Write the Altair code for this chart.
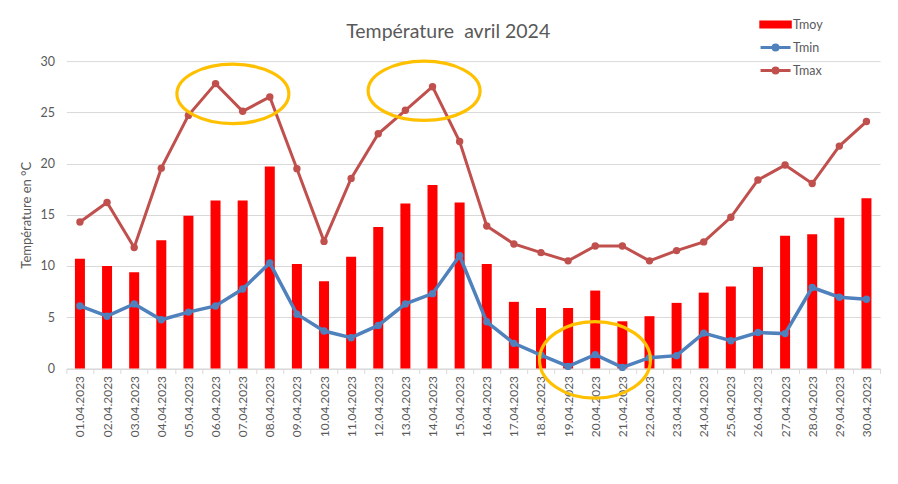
import altair as alt
import pandas as pd

# ---- data ----
dates = [f"{d:02d}.04.2023" for d in range(1, 31)]
tmoy = [10.7, 10.0, 9.4, 12.5, 14.9, 16.4, 16.4, 19.7, 10.2, 8.5,
        10.9, 13.8, 16.1, 17.9, 16.2, 10.2, 6.5, 5.9, 5.9, 7.6,
        4.6, 5.1, 6.4, 7.4, 8.0, 9.9, 12.95, 13.1, 14.7, 16.6]
tmin = [6.1, 5.1, 6.3, 4.75, 5.5, 6.1, 7.75, 10.3, 5.3, 3.65,
        3.0, 4.2, 6.3, 7.3, 11.0, 4.55, 2.45, 1.3, 0.2, 1.35,
        0.1, 1.05, 1.25, 3.45, 2.7, 3.5, 3.4, 7.9, 6.95, 6.75]
tmax = [14.3, 16.2, 11.8, 19.55, 24.7, 27.8, 25.1, 26.5, 19.5, 12.4,
        18.55, 22.9, 25.2, 27.5, 22.15, 13.9, 12.15, 11.3, 10.5, 11.95,
        11.95, 10.5, 11.5, 12.35, 14.75, 18.4, 19.85, 18.05, 21.7, 24.1]

series_names = ["Tmoy", "Tmin", "Tmax"]
series_colors = ["#FF0000", "#4F81BD", "#C0504D"]

# highlight ellipses (centre: day index, temperature)
ell_day = [6.64, 13.69, 19.99]
ell_temp = [26.8, 27.1, 0.83]
ell_kind = ["flat", "flat", "round"]

title_text = "Température\u00a0\u00a0avril 2024"
y_title = "Température en °C"

FONT = "Lato"
GRAY = "#595959"
GRID = "#D9D9D9"

df = pd.DataFrame({"date": dates, "Tmoy": tmoy, "Tmin": tmin, "Tmax": tmax})
ell = pd.DataFrame({"day": ell_day, "temp": ell_temp, "kind": ell_kind})
leg = pd.DataFrame({"series": series_names})

W, H = 814, 307.5

xenc = alt.X("date:O", sort=None, title=None,
             scale=alt.Scale(paddingInner=0, paddingOuter=0),
             axis=alt.Axis(labelAngle=-90, labelFontSize=12, labelColor=GRAY, labelFont=FONT,
                           tickBand="extent", tickSize=5, tickColor=GRID, domainColor=GRID,
                           labelPadding=2, grid=False))
yscale = alt.Scale(domain=[0, 30], nice=False)
yaxis = alt.Axis(values=[0, 5, 10, 15, 20, 25, 30], labelFontSize=12.5, labelColor=GRAY,
                 labelFont=FONT, domain=False, ticks=False, tickSize=0, labelPadding=12,
                 gridColor=GRID, title=y_title, titleFont=FONT, titleFontSize=13,
                 titleColor=GRAY, titleFontWeight="normal", titlePadding=6)

base = alt.Chart(df)
bars = base.mark_bar(color="#FF0000", width=10).encode(
    x=xenc, y=alt.Y("Tmoy:Q", scale=yscale, axis=yaxis))
lmin = base.mark_line(color="#4F81BD", strokeWidth=3.5).encode(x=xenc, y=alt.Y("Tmin:Q", scale=yscale))
pmin = base.mark_circle(color="#4F81BD", size=55, opacity=1).encode(x=xenc, y=alt.Y("Tmin:Q", scale=yscale))
lmax = base.mark_line(color="#C0504D", strokeWidth=3).encode(x=xenc, y=alt.Y("Tmax:Q", scale=yscale))
pmax = base.mark_circle(color="#C0504D", size=55, opacity=1).encode(x=xenc, y=alt.Y("Tmax:Q", scale=yscale))

rect_path = "M -2.95 -0.5 H 2.95 V 0.5 H -2.95 Z"
line_path = "M -3.0 0 H 3.0 M -0.5 0 A 0.5 0.5 0 1 0 0.5 0 A 0.5 0.5 0 1 0 -0.5 0 Z"
leg_legend = alt.Legend(title=None, orient="none", legendX=703, legendY=-43,
                        labelFont=FONT, labelFontSize=12.5, labelColor=GRAY,
                        symbolOpacity=1, symbolStrokeWidth=3, symbolSize=100,
                        labelOffset=11, rowPadding=6)
legend_layer = alt.Chart(leg).mark_point(filled=True, opacity=0).encode(
    x=alt.value(0), y=alt.value(0),
    color=alt.Color("series:N", sort=series_names,
                    scale=alt.Scale(domain=series_names, range=series_colors), legend=leg_legend),
    stroke=alt.Stroke("series:N", sort=series_names,
                      scale=alt.Scale(domain=series_names, range=series_colors), legend=leg_legend),
    shape=alt.Shape("series:N", sort=series_names,
                    scale=alt.Scale(domain=series_names, range=[rect_path, line_path, line_path]),
                    legend=leg_legend),
)

inner = alt.layer(bars, lmin, pmin, lmax, pmax, legend_layer)

flat_path = "M -1 0 A 1 0.53 0 1 1 1 0 A 1 0.53 0 1 1 -1 0 Z"
round_path = "M -1 0 A 1 0.69 0 1 1 1 0 A 1 0.69 0 1 1 -1 0 Z"
ex = alt.X("day:Q", scale=alt.Scale(domain=[0.5, 30.5], nice=False, zero=False), axis=None)
ey = alt.Y("temp:Q", scale=yscale)
e1 = alt.Chart(ell).transform_filter(alt.datum.kind == "flat").mark_point(
    shape=flat_path, size=112 * 112, stroke="#FFC000", strokeWidth=3.2, filled=False, opacity=1
).encode(x=ex, y=ey)
e2 = alt.Chart(ell).transform_filter(alt.datum.kind == "round").mark_point(
    shape=round_path, size=111 * 111, stroke="#FFC000", strokeWidth=3.2, filled=False, opacity=1
).encode(x=ex, y=ey)

chart = alt.layer(inner, e1, e2).resolve_scale(x="independent").properties(
    width=W, height=H,
    autosize=alt.AutoSizeParams(type="none"),
    padding={"left": 58.4, "top": 53, "right": 10, "bottom": 95},
    title=alt.TitleParams(title_text, font=FONT, fontSize=19.5, color=GRAY, fontWeight="normal",
                          anchor="middle", dx=-25, offset=0, dy=24),
).configure_view(stroke=None).configure_axis(gridColor=GRID)

chart.save("out.html", embed_options={"renderer": "svg", "actions": False})
